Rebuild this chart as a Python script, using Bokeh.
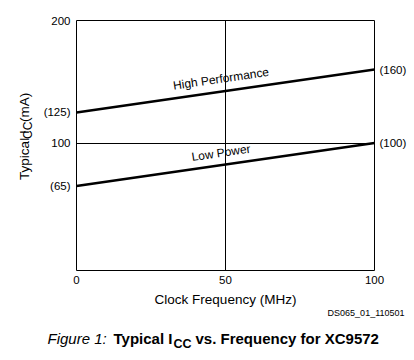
import math
from bokeh.plotting import figure
from bokeh.layouts import column, row
from bokeh.models import Range1d, FixedTicker, Label, LinearAxis
from bokeh.embed import file_html
from bokeh.resources import INLINE

# ---- data ----
freq = [0, 100]                      # Clock Frequency (MHz)
high_perf = [125, 160]               # Typical ICC (mA), High Performance
low_power = [65, 100]                # Typical ICC (mA), Low Power
x_ticks = [0, 50, 100]
y_ticks = [100, 200]
series_names = ["High Performance", "Low Power"]

FONT = "Liberation Sans"
LW = 40                      # width of the left strip holding the y title
W = 412
H1 = 309                     # height of the chart row
H2 = 358 - H1                # caption strip
FL, FT = 76 - LW, 20
FW, FH = 298, 253
FR, FB = W - LW - FL - FW, H1 - FT - FH
Y0, Y1 = -4, 200

def blank(width, height):
    f = figure(width=width, height=height, x_range=Range1d(0, width), y_range=Range1d(0, height),
               title=None, x_axis_location=None, y_axis_location=None, output_backend="svg",
               toolbar_location=None, min_border_left=0, min_border_right=0,
               min_border_top=0, min_border_bottom=0)
    f.outline_line_color = None
    f.grid.visible = False
    f.background_fill_color = "white"
    f.border_fill_color = "white"
    return f

def lab(fig, text, x, y, size, align="left", baseline="alphabetic", angle=0.0, style="normal"):
    fig.add_layout(Label(x=x, y=y, text=text, text_font=FONT, text_font_size=size,
                         text_align=align, text_baseline=baseline, angle=angle,
                         text_font_style=style, text_color="black"))

# ---------------- main chart ----------------
p = figure(width=W - LW, height=H1, x_range=Range1d(freq[0], freq[1]), y_range=Range1d(Y0, Y1),
           title=None, output_backend="svg", toolbar_location=None,
           min_border_left=FL, min_border_right=FR, min_border_top=FT, min_border_bottom=FB)
p.background_fill_color = "white"
p.border_fill_color = "white"
p.outline_line_color = "black"
p.outline_line_width = 1
p.outline_line_alpha = 1

def style_axis(ax, standoff):
    ax.axis_line_color = None
    ax.major_tick_out = 0
    ax.major_tick_in = 0
    ax.minor_tick_out = 0
    ax.minor_tick_in = 0
    ax.major_label_text_font = FONT
    ax.major_label_text_font_size = "11.5px"
    ax.major_label_text_color = "black"
    ax.major_label_standoff = standoff

xa = p.xaxis[0]
style_axis(xa, 5)
xa.ticker = FixedTicker(ticks=x_ticks)
xa.axis_label = "Clock Frequency (MHz)"
xa.axis_label_text_font = FONT
xa.axis_label_text_font_size = "13.5px"
xa.axis_label_text_font_style = "normal"
xa.axis_label_text_color = "black"
xa.axis_label_standoff = 5

# left axis: tick values plus the start values of both curves
ya = p.yaxis[0]
style_axis(ya, 6)
ya.ticker = FixedTicker(ticks=sorted(y_ticks + [high_perf[0], low_power[0]]))
ya.major_label_overrides = {high_perf[0]: "(%d)" % high_perf[0], low_power[0]: "(%d)" % low_power[0]}

# right axis: end values of both curves
ra = LinearAxis(ticker=FixedTicker(ticks=[low_power[1], high_perf[1]]),
                major_label_overrides={high_perf[1]: "(%d)" % high_perf[1],
                                       low_power[1]: "(%d)" % low_power[1]})
style_axis(ra, 5)
p.add_layout(ra, "right")

# grid: only the middle lines
p.xgrid.ticker = FixedTicker(ticks=[50])
p.ygrid.ticker = FixedTicker(ticks=[100])
for g in (p.xgrid[0], p.ygrid[0]):
    g.grid_line_color = "black"
    g.grid_line_width = 1
    g.grid_line_alpha = 1

p.line(freq, high_perf, line_color="black", line_width=2.6)
p.line(freq, low_power, line_color="black", line_width=2.6)

# series labels along the lines
px_per_y = FH / (Y1 - Y0)
px_per_x = FW / (freq[1] - freq[0])
def slope_angle(vals):
    return math.atan(((vals[1] - vals[0]) * px_per_y) / ((freq[1] - freq[0]) * px_per_x))

def y_at(vals, x):
    return vals[0] + (vals[1] - vals[0]) * (x - freq[0]) / (freq[1] - freq[0])

xm = 48.5
lab(p, series_names[0], xm, y_at(high_perf, xm) + 10.5, "12px", align="center", angle=slope_angle(high_perf))
lab(p, series_names[1], xm, y_at(low_power, xm) + 10.0, "12px", align="center", angle=slope_angle(low_power))

# ---------------- left strip: y title with subscript ----------------
left = blank(LW, H1)
lab(left, "Typical I", 23.5, H1 - 197.0, "13.5px", angle=math.pi / 2)
lab(left, "CC", 27.5, H1 - 146.5, "12px", angle=math.pi / 2)
lab(left, "(mA)", 23.5, H1 - 125.4, "13.5px", angle=math.pi / 2)

# ---------------- caption strip ----------------
cap = blank(W, H2)
def cy(Y):
    return 358 - Y
lab(cap, "DS065_01_110501", 404, cy(312.5), "9px", align="right")
lab(cap, "Figure 1:", 47, cy(338.3), "15px", style="italic")
lab(cap, "Typical I", 113, cy(338.3), "15px", style="bold")
lab(cap, "CC", 173, cy(343.6), "12.5px", style="bold")
lab(cap, "vs. Frequency for XC9572", 195, cy(338.3), "15px", style="bold")

layout = column(row(left, p, spacing=0), cap, spacing=0)
open("out.html", "w").write(file_html(layout, INLINE))
